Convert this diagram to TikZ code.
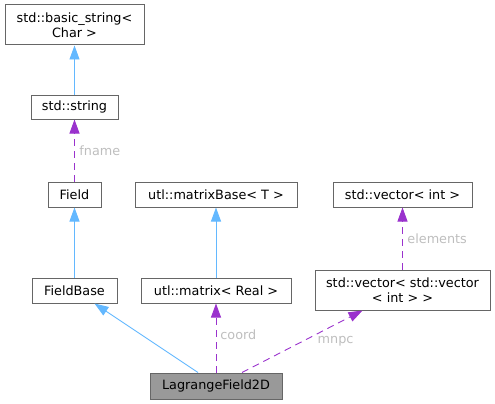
\documentclass[tikz,border=0pt]{standalone}
\usepackage{fontspec}
\setmainfont{DejaVu Sans}
\usetikzlibrary{arrows.meta}
\definecolor{inhblue}{HTML}{63B8FF}
\definecolor{usepurple}{HTML}{9A32CD}
\definecolor{boxgray}{HTML}{666666}
\definecolor{lblgray}{HTML}{BEBEBE}
\definecolor{lagfill}{HTML}{999999}

\begin{document}
\begin{tikzpicture}[x=1pt,y=-1pt,font=\fontsize{12.8}{15}\selectfont,
  cls/.style={draw=boxgray,fill=white,line width=1pt,inner sep=0pt,align=center,minimum height=25pt},
  inh/.style={draw=inhblue,line width=0.9pt,-{Triangle[length=14pt,width=10pt,fill=inhblue]}},
  use/.style={draw=usepurple,line width=0.9pt,dash pattern=on 7pt off 5pt,-{Triangle[length=14pt,width=10pt,fill=usepurple]}},
  lbl/.style={text=lblgray,inner sep=0pt,anchor=west}]
\useasboundingbox (0,0) rectangle (495,404);
% classes
\node[cls,minimum width=139pt,minimum height=40pt] (bstr) at (74.5,25) {std::basic\_string<\\Char >};
\node[cls,minimum width=87pt,minimum height=24pt] (str) at (74.5,107) {std::string};
\node[cls,minimum width=53pt] (fld) at (74.5,194.5) {Field};
\node[cls,minimum width=162pt] (mbase) at (216,194.5) {utl::matrixBase< T >};
\node[cls,minimum width=139pt] (vint) at (402.5,194.5) {std::vector< int >};
\node[cls,minimum width=85pt] (fbase) at (74.5,290.5) {FieldBase};
\node[cls,minimum width=150pt] (mat) at (216,290.5) {utl::matrix< Real >};
\node[cls,minimum width=175pt,minimum height=40pt] (vvec) at (402.5,290) {std::vector< std::vector\\< int > >};
\node[cls,fill=lagfill,minimum width=132pt,minimum height=26pt] (lag) at (216,386) {LagrangeField2D};
% inheritance
\draw[inh] (str) -- (bstr);
\draw[inh] (fbase) -- (fld);
\draw[inh] (mat) -- (mbase);
\draw[inh] ([xshift=-18pt]lag.north) -- ([xshift=20pt]fbase.south);
% members
\draw[use] (fld) -- node[lbl,xshift=4.5pt]{fname} (str);
\draw[use] (vvec) -- node[lbl,xshift=4.5pt]{elements} (vint);
\draw[use] (lag) -- node[lbl,xshift=4pt,yshift=3pt]{coord} (mat);
\draw[use] ([xshift=26pt]lag.north) -- node[lbl,xshift=15pt]{mnpc} ([xshift=-40pt]vvec.south);
\end{tikzpicture}
\end{document}
